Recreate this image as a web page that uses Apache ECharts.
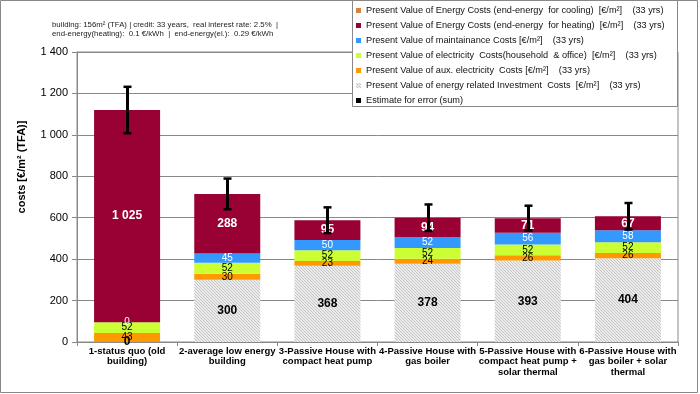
<!DOCTYPE html>
<html>
<head>
<meta charset="utf-8">
<script src="https://cdn.jsdelivr.net/npm/echarts@6/dist/echarts.min.js"></script>
<style>html,body{margin:0;padding:0;background:#fff;}#c{width:700px;height:394px;}</style>
</head>
<body>
<div id="c"></div>
<script>
const categories = [
  "1-status quo (old\nbuilding)",
  "2-average low energy\nbuilding",
  "3-Passive House with\ncompact heat pump",
  "4-Passive House with\ngas boiler",
  "5-Passive House with\ncompact heat pump +\nsolar thermal",
  "6-Passive House with\ngas boiler + solar\nthermal"
];
const investment = [0, 300, 368, 378, 393, 404];
const auxElectricity = [43, 30, 23, 24, 26, 26];
const electricity = [52, 52, 52, 52, 52, 52];
const maintenance = [0, 45, 50, 52, 56, 58];
const heating = [1025, 288, 95, 94, 71, 67];
const cooling = [0, 0, 0, 0, 0, 0];
const errorEstimate = [112, 74, 62, 64, 60, 64];
const yTicks = [0, 200, 400, 600, 800, 1000, 1200, 1400];

const names = {
  cool: "Present Value of Energy Costs (end-energy  for cooling)  [€/m²]    (33 yrs)",
  heat: "Present Value of Energy Costs (end-energy  for heating)  [€/m²]    (33 yrs)",
  maint: "Present Value of maintainance Costs [€/m²]    (33 yrs)",
  elec: "Present Value of electricity  Costs(household  & office)  [€/m²]    (33 yrs)",
  aux: "Present Value of aux. electricity  Costs [€/m²]    (33 yrs)",
  inv: "Present Value of energy related Investment  Costs  [€/m²]    (33 yrs)",
  err: "Estimate for error (sum)"
};

const FONT = "'Liberation Sans', Arial, sans-serif";
const fmt = v => String(Math.round(v)).replace(/\B(?=(\d{3})+(?!\d))/g, ' ');

// hatch pattern for investment
const pc = document.createElement('canvas');
pc.width = 3; pc.height = 3;
const pctx = pc.getContext('2d');
pctx.fillStyle = '#ececec'; pctx.fillRect(0, 0, 3, 3);
pctx.fillStyle = '#c4c4c4';
for (let i = 0; i < 3; i++) pctx.fillRect(i, i, 1, 1);
const hatch = { image: pc, repeat: 'repeat' };

const totals = categories.map((_, i) =>
  investment[i] + auxElectricity[i] + electricity[i] + maintenance[i] + heating[i] + cooling[i]);
const errData = categories.map((_, i) => [i, totals[i], errorEstimate[i]]);

function barSeries(name, data, color, labelColor, labelSize, bold, showLabel) {
  return {
    name, type: 'bar', stack: 'total', data, barWidth: 66,
    itemStyle: { color },
    label: {
      show: showLabel, position: 'inside', color: labelColor,
      fontSize: labelSize, fontWeight: bold ? 'bold' : 'normal', fontFamily: FONT,
      formatter: p => fmt(p.value)
    },
    emphasis: { disabled: true }
  };
}

const chart = echarts.init(document.getElementById('c'), null, { renderer: 'canvas' });
chart.setOption({
  animation: false,
  backgroundColor: '#fff',
  grid: { left: 77, right: 22, top: 52, bottom: 52, containLabel: false,
    show: true, borderColor: '#888', borderWidth: 1, backgroundColor: 'transparent' },
  xAxis: {
    type: 'category', data: categories,
    axisLine: { lineStyle: { color: '#888', width: 1 } },
    axisTick: { show: true, length: 4, lineStyle: { color: '#888' } },
    axisLabel: {
      interval: 0, color: '#000', fontSize: 9.5, fontWeight: 'bold', fontFamily: FONT,
      lineHeight: 10.5, margin: 4
    }
  },
  yAxis: {
    type: 'value', min: 0, max: 1400, interval: 200,
    axisLine: { show: true, lineStyle: { color: '#888', width: 1 } },
    axisTick: { show: true, length: 5, lineStyle: { color: '#888' } },
    axisLabel: { color: '#000', fontSize: 11, fontFamily: FONT, margin: 9,
      formatter: v => yTicks.includes(v) ? fmt(v) : '' },
    splitLine: { show: true, lineStyle: { color: '#888', width: 1 } }
  },
  legend: {
    orient: 'vertical', left: 356, top: 6, z: 20,
    itemWidth: 5, itemHeight: 5, itemGap: 6, padding: 0,
    textStyle: { fontSize: 9.2, color: '#111', fontFamily: FONT },
    data: [
      { name: names.cool, icon: 'rect' },
      { name: names.heat, icon: 'rect' },
      { name: names.maint, icon: 'rect' },
      { name: names.elec, icon: 'rect' },
      { name: names.aux, icon: 'rect' },
      { name: names.inv, icon: 'rect' },
      { name: names.err, icon: 'rect' }
    ]
  },
  graphic: [
    { type: 'rect', z: 10, shape: { x: 352.5, y: 0.5, width: 325, height: 106 },
      style: { fill: '#fff', stroke: '#888', lineWidth: 1 } },
    { type: 'rect', z: 30, silent: true, shape: { x: 0.5, y: 0.5, width: 697, height: 392 },
      style: { fill: 'none', stroke: '#888', lineWidth: 1 } },
    { type: 'text', z: 10, left: 52, top: 21,
      style: { text: 'building: 156m² (TFA) | credit: 33 years,  real interest rate: 2.5%  |', fontSize: 7.8, fill: '#222', fontFamily: FONT } },
    { type: 'text', z: 10, left: 52, top: 30,
      style: { text: 'end-energy(heating):  0.1 €/kWh  |  end-energy(el.):  0.29 €/kWh', fontSize: 7.8, fill: '#222', fontFamily: FONT } },
    { type: 'text', z: 10, x: 22, y: 167, rotation: Math.PI / 2,
      style: { text: 'costs [€/m² (TFA)]', fontSize: 11, fontWeight: 'bold', fill: '#000', fontFamily: FONT,
        align: 'center', verticalAlign: 'middle' } }
  ],
  series: [
    barSeries(names.inv, investment, hatch, '#000', 12, true, true),
    barSeries(names.aux, auxElectricity, '#FF9900', '#000', 10, false, true),
    barSeries(names.elec, electricity, '#CCFF33', '#000', 10, false, true),
    barSeries(names.maint, maintenance, '#3399FF', '#fff', 10, false, true),
    barSeries(names.heat, heating, '#990033', '#fff', 12, true, true),
    barSeries(names.cool, cooling, '#D4843E', '#000', 10, false, false),
    {
      name: names.err, type: 'custom', z: 10, data: errData,
      itemStyle: { color: '#000' },
      encode: { x: 0, y: 1 },
      renderItem: (params, api) => {
        const idx = api.value(0), tot = api.value(1), e = api.value(2);
        const hi = api.coord([idx, tot + e]);
        const lo = api.coord([idx, tot - e]);
        const x = Math.round(hi[0]) + 0.5;
        const st = { stroke: '#000', lineWidth: 3 };
        return { type: 'group', children: [
          { type: 'line', shape: { x1: x, y1: hi[1], x2: x, y2: lo[1] }, style: st },
          { type: 'line', shape: { x1: x - 4, y1: hi[1], x2: x + 4, y2: hi[1] }, style: { stroke: '#000', lineWidth: 2.5 } },
          { type: 'line', shape: { x1: x - 4, y1: lo[1], x2: x + 4, y2: lo[1] }, style: { stroke: '#000', lineWidth: 2.5 } }
        ] };
      }
    }
  ]
});
</script>
</body>
</html>
